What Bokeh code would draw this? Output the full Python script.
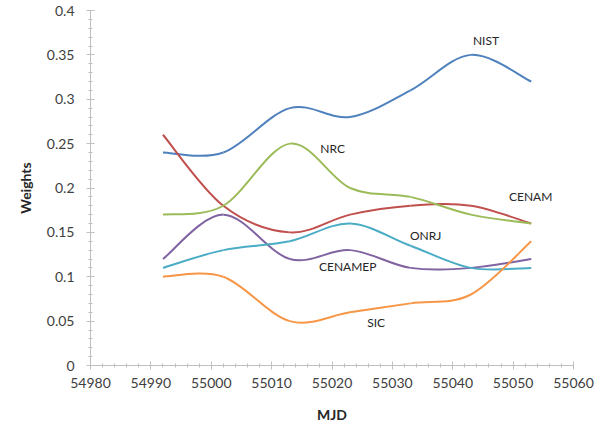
from bokeh.plotting import figure
from bokeh.models import Range1d, FixedTicker, ColumnDataSource, Label
from bokeh.embed import file_html
from bokeh.resources import INLINE

# ---- data ----
mjd = [54992, 55002, 55013, 55023, 55033, 55043, 55053]
nist = [0.24, 0.24, 0.29, 0.28, 0.31, 0.35, 0.32]
nrc = [0.17, 0.18, 0.25, 0.20, 0.19, 0.17, 0.16]
cenam = [0.26, 0.18, 0.15, 0.17, 0.18, 0.18, 0.16]
cenamep = [0.12, 0.17, 0.12, 0.13, 0.11, 0.11, 0.12]
onrj = [0.11, 0.13, 0.14, 0.16, 0.135, 0.11, 0.11]
sic = [0.10, 0.10, 0.05, 0.06, 0.07, 0.08, 0.14]

series_names = ["NIST", "CENAM", "NRC", "CENAMEP", "ONRJ", "SIC"]
series_values = [nist, cenam, nrc, cenamep, onrj, sic]
series_colors = ["#4F81BD", "#C0504D", "#9BBB59", "#8064A2", "#4BACC6", "#F79646"]

label_names = ["NIST", "NRC", "CENAM", "ONRJ", "CENAMEP", "SIC"]
label_x = [55045.5, 55020.1, 55052.9, 55035.5, 55022.6, 55027.3]
label_y = [0.366, 0.245, 0.19, 0.147, 0.111, 0.049]

x_ticks = [54980, 54990, 55000, 55010, 55020, 55030, 55040, 55050, 55060]
x_tick_labels = ["54980", "54990", "55000", "55010", "55020", "55030", "55040", "55050", "55060"]
y_ticks = [0, 0.05, 0.1, 0.15, 0.2, 0.25, 0.3, 0.35, 0.4]
y_tick_labels = ["0", "0.05", "0.1", "0.15", "0.2", "0.25", "0.3", "0.35", "0.4"]

FONT = "Lato"
AXIS_GRAY = "#BFBFBF"
TEXT = "#404040"

p = figure(width=600, height=425, output_backend="svg", toolbar_location=None,
           x_range=Range1d(54980, 55060), y_range=Range1d(0, 0.4),
           min_border_left=90, min_border_right=27, min_border_top=10, min_border_bottom=59)
p.outline_line_color = None
p.xgrid.visible = False
p.ygrid.visible = False
p.background_fill_color = "white"


def bezier_source(xs, ys):
    """Excel-style smoothed line: cubic Bezier segments with 1/6 tangents."""
    n = len(xs)
    d = dict(x0=[], y0=[], x1=[], y1=[], cx0=[], cy0=[], cx1=[], cy1=[])
    for i in range(n - 1):
        xp, yp = (xs[i - 1], ys[i - 1]) if i > 0 else (xs[i], ys[i])
        xn, yn = (xs[i + 2], ys[i + 2]) if i + 2 < n else (xs[i + 1], ys[i + 1])
        d["x0"].append(xs[i]); d["y0"].append(ys[i])
        d["x1"].append(xs[i + 1]); d["y1"].append(ys[i + 1])
        d["cx0"].append(xs[i] + (xs[i + 1] - xp) / 6.0)
        d["cy0"].append(ys[i] + (ys[i + 1] - yp) / 6.0)
        d["cx1"].append(xs[i + 1] - (xn - xs[i]) / 6.0)
        d["cy1"].append(ys[i + 1] - (yn - ys[i]) / 6.0)
    return ColumnDataSource(d)


for name, vals, col in zip(series_names, series_values, series_colors):
    src = bezier_source(mjd, vals)
    p.bezier(x0="x0", y0="y0", x1="x1", y1="y1", cx0="cx0", cy0="cy0",
             cx1="cx1", cy1="cy1", source=src, line_color=col, line_width=2)

for name, lx, ly in zip(label_names, label_x, label_y):
    p.add_layout(Label(x=lx, y=ly, text=name, text_font=FONT, text_font_size="12px",
                       text_color="#262626", text_align="center", text_baseline="middle"))

# x axis
p.xaxis.ticker = FixedTicker(ticks=x_ticks,
                             minor_ticks=[54980 + 2 * i for i in range(41)])
p.xaxis.major_label_overrides = {t: s for t, s in zip(x_ticks, x_tick_labels)}
p.xaxis.axis_label = "MJD"
# y axis
p.yaxis.ticker = FixedTicker(ticks=y_ticks,
                             minor_ticks=[round(0.01 * i, 2) for i in range(41)])
p.yaxis.major_label_overrides = {t: s for t, s in zip(y_ticks, y_tick_labels)}
p.yaxis.axis_label = "Weights"

for ax in (p.xaxis[0], p.yaxis[0]):
    ax.axis_line_color = AXIS_GRAY
    ax.major_tick_line_color = AXIS_GRAY
    ax.minor_tick_line_color = AXIS_GRAY
    ax.major_tick_out = 4
    ax.major_tick_in = 4
    ax.minor_tick_out = 2
    ax.minor_tick_in = 2
    ax.major_label_text_font = FONT
    ax.major_label_text_font_size = "14px"
    ax.major_label_text_color = TEXT
    ax.axis_label_text_font = FONT
    ax.axis_label_text_font_size = "14px"
    ax.axis_label_text_font_style = "bold"
    ax.axis_label_text_color = "#262626"

p.xaxis.major_label_standoff = 8
p.xaxis.axis_label_standoff = 15
p.yaxis.major_label_standoff = 12
p.yaxis.axis_label_standoff = 10

open("out.html", "w").write(file_html(p, INLINE))
